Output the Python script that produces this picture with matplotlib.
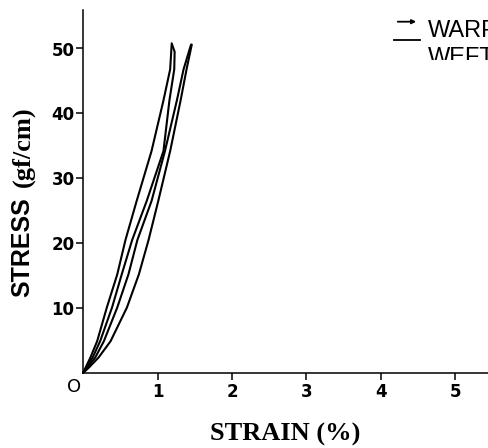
import matplotlib

matplotlib.use("Agg")
import matplotlib.pyplot as plt
from matplotlib.transforms import Bbox, TransformedBbox

# hysteresis loops (strain %, stress gf/cm)
warp_load_strain = [0.0, 0.10, 0.19, 0.32, 0.46, 0.57, 0.72, 0.92, 1.08, 1.17, 1.19]
warp_load_stress = [0.0, 2.4, 4.9, 10.1, 15.2, 20.5, 26.5, 34.2, 42.0, 46.8, 50.6]
warp_unload_strain = [1.19, 1.23, 1.225, 1.16, 1.08, 0.855, 0.66, 0.52, 0.39, 0.23, 0.13, 0.0]
warp_unload_stress = [50.8, 49.5, 46.8, 42.0, 34.2, 26.5, 20.5, 15.2, 10.1, 4.9, 2.4, 0.0]

weft_load_strain = [0.0, 0.165, 0.28, 0.46, 0.61, 0.73, 0.92, 1.10, 1.26, 1.35, 1.45]
weft_load_stress = [0.0, 2.4, 4.9, 10.1, 15.2, 20.5, 26.5, 34.2, 42.0, 46.8, 50.6]
weft_unload_strain = [1.46, 1.39, 1.31, 1.17, 1.01, 0.88, 0.75, 0.59, 0.37, 0.21, 0.076, 0.0]
weft_unload_stress = [50.6, 46.8, 42.0, 34.2, 26.5, 20.5, 15.2, 10.1, 4.9, 2.4, 0.8, 0.0]

x_ticks = [1, 2, 3, 4, 5]
y_ticks = [10, 20, 30, 40, 50]

W, H = 488, 448
fig = plt.figure(figsize=(W / 100, H / 100), dpi=100)
ax = fig.add_axes([83 / W, 75 / H, (W - 83) / W, (373 - 10) / H])

for xs, ys in [(warp_load_strain, warp_load_stress),
               (warp_unload_strain, warp_unload_stress),
               (weft_load_strain, weft_load_stress),
               (weft_unload_strain, weft_unload_stress)]:
    ax.plot(xs, ys, color="black", lw=1.5, solid_capstyle="round",
            solid_joinstyle="round", clip_on=False)

ax.set_xlim(0, (W - 83) / 74.5)
ax.set_ylim(0, 363 / 6.49)
for side in ("top", "right"):
    ax.spines[side].set_visible(False)
for side in ("left", "bottom"):
    ax.spines[side].set_linewidth(1.1)

ax.set_xticks(x_ticks)
ax.set_yticks(y_ticks)
ax.tick_params(axis="both", direction="out", length=5, width=1.1,
               labelsize=12)
ax.tick_params(axis="x", pad=2)
ax.tick_params(axis="y", pad=1)
for lbl in ax.get_xticklabels() + ax.get_yticklabels():
    lbl.set_fontweight("bold")
ax.text(-0.02, -0.8, "O", ha="right", va="top", fontsize=13,
        transform=ax.transData, clip_on=False)

# axis titles: sans caps + serif units, like the original
fig.text(22 / W, 1 - 297 / H, "STRESS", rotation=90, ha="center",
         va="bottom", fontsize=18, fontweight="bold",
         family="Liberation Sans")
fig.text(23 / W, 1 - 187 / H, "(gf/cm)", rotation=90, ha="center",
         va="bottom", fontsize=19, fontweight="bold",
         family="Liberation Serif")
fig.text(285 / W, 1 - 434 / H, "STRAIN (%)", ha="center", va="center",
         fontsize=19, fontweight="bold", family="Liberation Serif")

# legend: arrowed line for warp, plain line for weft, text runs off the edge
ax.annotate("", xy=(419 / W, 1 - 21.7 / H), xytext=(395 / W, 1 - 21.7 / H),
            xycoords="figure fraction", textcoords="figure fraction",
            arrowprops=dict(arrowstyle="-|>", color="black", lw=1.3,
                            mutation_scale=6))
fig.add_artist(plt.Line2D([394 / W, 420 / W], [1 - 40 / H, 1 - 40 / H],
                          color="black", lw=1.3))
clip = TransformedBbox(Bbox([[0, (H - 60) / H], [1, 1]]), fig.transFigure)
for label, top in [("WARP", 20), ("WEFT", 46.7)]:
    t = fig.text(428 / W, 1 - top / H, label, ha="left", va="top",
                 fontsize=17, family="Liberation Sans")
    t.set_clip_box(clip)
    t.set_clip_on(True)

fig.savefig("out.png", dpi=100)
